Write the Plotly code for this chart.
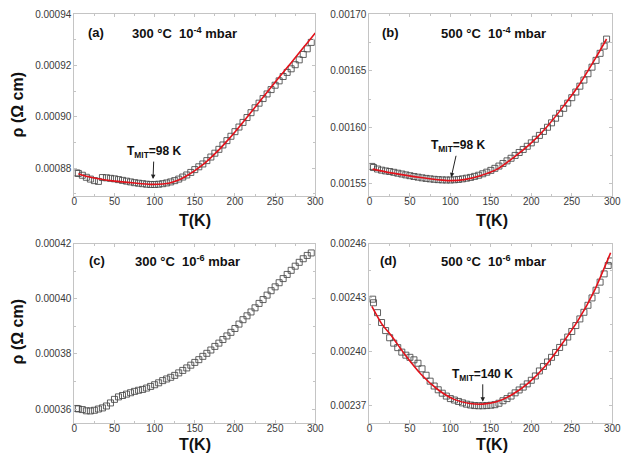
import plotly.graph_objects as go

# ---------------- data ----------------
T_a = [3, 5, 10, 15, 20, 25, 30, 35, 40, 45, 50, 55, 60, 65, 70, 75, 80, 85, 90, 95,
       100, 105, 110, 115, 120, 125, 130, 135, 140, 145, 150, 155, 160, 165, 170, 175,
       180, 185, 190, 195, 200, 205, 210, 215, 220, 225, 230, 235, 240, 245, 250, 255,
       260, 265, 270, 275, 280, 285, 290, 295]
rho_a = [0.0008781, 0.0008779, 0.0008772, 0.0008764, 0.0008757, 0.0008751, 0.0008748,
         0.0008763, 0.0008762, 0.0008760, 0.0008758, 0.0008755, 0.0008752, 0.0008749,
         0.0008746, 0.0008743, 0.0008741, 0.0008739, 0.0008737, 0.0008736, 0.0008736,
         0.0008737, 0.0008739, 0.0008742, 0.0008746, 0.0008751, 0.0008757, 0.0008765,
         0.0008773, 0.0008783, 0.0008794, 0.0008805, 0.0008816, 0.0008829, 0.0008843,
         0.0008858, 0.0008873, 0.0008890, 0.0008907, 0.0008924, 0.0008942, 0.0008960,
         0.0008978, 0.0008997, 0.0009016, 0.0009035, 0.0009053, 0.0009071, 0.0009089,
         0.0009106, 0.0009123, 0.0009140, 0.0009157, 0.0009173, 0.0009187, 0.0009203,
         0.0009222, 0.0009243, 0.0009265, 0.0009290]
Tfit_a = [5, 15, 30, 50, 75, 95, 110, 119, 130, 139, 150, 160, 170, 180, 190, 200, 210,
          220, 230, 240, 250, 260, 270, 280, 290, 300]
fit_a = [0.0008778, 0.0008768, 0.0008758, 0.0008749, 0.00087415, 0.00087365, 0.0008738,
         0.0008742, 0.0008753, 0.0008768, 0.0008790, 0.0008813, 0.0008841, 0.0008871,
         0.0008905, 0.0008941, 0.0008979, 0.0009018, 0.0009057, 0.0009096, 0.0009135,
         0.0009173, 0.0009211, 0.0009250, 0.0009288, 0.0009327]

T_b = [3, 5, 10, 15, 20, 25, 30, 35, 40, 45, 50, 55, 60, 65, 70, 75, 80, 85, 90, 95,
       100, 105, 110, 115, 120, 125, 130, 135, 140, 145, 150, 155, 160, 165, 170, 175,
       180, 185, 190, 195, 200, 205, 210, 215, 220, 225, 230, 235, 240, 245, 250, 255,
       260, 265, 270, 275, 280, 285, 290, 293]
rho_b = [0.0015655, 0.0015645, 0.0015632, 0.0015622, 0.0015615, 0.0015610, 0.0015603,
         0.0015595, 0.0015588, 0.0015580, 0.0015573, 0.0015566, 0.0015560, 0.0015554,
         0.0015549, 0.0015545, 0.0015541, 0.0015538, 0.0015536, 0.0015535, 0.0015535,
         0.0015537, 0.0015540, 0.0015545, 0.0015551, 0.0015558, 0.0015567, 0.0015577,
         0.0015590, 0.0015604, 0.0015620, 0.0015638, 0.0015658, 0.0015681, 0.0015704,
         0.0015727, 0.0015752, 0.0015778, 0.0015805, 0.0015833, 0.0015863, 0.0015895,
         0.0015929, 0.0015964, 0.0016001, 0.0016040, 0.0016081, 0.0016124, 0.0016168,
         0.0016214, 0.0016262, 0.0016312, 0.0016364, 0.0016418, 0.0016474, 0.0016532,
         0.0016592, 0.0016654, 0.0016718, 0.0016780]
Tfit_b = [4, 20, 36, 55, 77, 90, 101, 117, 137, 158, 178, 198, 218, 238, 259, 279, 293]
fit_b = [0.0015631, 0.0015607, 0.0015587, 0.0015565, 0.0015544, 0.0015534, 0.0015529,
         0.0015538, 0.0015573, 0.0015631, 0.0015733, 0.0015849, 0.0015995, 0.0016170,
         0.0016374, 0.0016607, 0.0016781]

T_c = [3, 5, 10, 15, 20, 25, 30, 35, 40, 45, 50, 55, 60, 65, 70, 75, 80, 85, 90, 95,
       100, 105, 110, 115, 120, 125, 130, 135, 140, 145, 150, 155, 160, 165, 170, 175,
       180, 185, 190, 195, 200, 205, 210, 215, 220, 225, 230, 235, 240, 245, 250, 255,
       260, 265, 270, 275, 280, 285, 290, 295]
rho_c = [0.0003602, 0.00036005, 0.0003598, 0.00035935, 0.0003593, 0.00035955, 0.00036,
         0.0003604, 0.0003611, 0.0003622, 0.0003635, 0.0003644, 0.0003649, 0.0003654,
         0.0003659, 0.0003664, 0.0003668, 0.0003671, 0.0003676, 0.0003682, 0.0003688,
         0.0003695, 0.0003703, 0.0003709, 0.0003715, 0.0003722, 0.0003731, 0.000374,
         0.0003749, 0.0003759, 0.0003769, 0.0003779, 0.0003791, 0.0003802, 0.0003814,
         0.0003827, 0.0003839, 0.0003852, 0.0003865, 0.0003878, 0.0003892, 0.0003908,
         0.0003924, 0.0003938, 0.0003952, 0.0003967, 0.0003983, 0.0003997, 0.0004013,
         0.0004029, 0.0004043, 0.0004058, 0.0004073, 0.0004088, 0.0004103, 0.0004118,
         0.0004132, 0.0004145, 0.0004157, 0.0004166]

T_d = [4, 5, 10, 15, 20, 25, 30, 35, 40, 45, 50, 55, 60, 65, 70, 75, 80, 85, 90, 95,
       100, 105, 110, 115, 120, 125, 130, 135, 140, 145, 150, 155, 160, 165, 170, 175,
       180, 185, 190, 195, 200, 205, 210, 215, 220, 225, 230, 235, 240, 245, 250, 255,
       260, 265, 270, 275, 280, 285, 290, 295, 298]
rho_d = [0.002429, 0.002427, 0.0024215, 0.002416, 0.0024115, 0.0024075, 0.0024045,
         0.002402, 0.0023995, 0.0023978, 0.0023966, 0.0023952, 0.0023933, 0.0023902,
         0.0023866, 0.0023833, 0.0023806, 0.0023785, 0.0023766, 0.002375, 0.0023736,
         0.0023728, 0.002372, 0.0023712, 0.0023705, 0.00237, 0.0023697, 0.0023696,
         0.0023696, 0.0023697, 0.0023699, 0.0023702, 0.002371, 0.0023724, 0.0023736,
         0.002375, 0.0023768, 0.0023784, 0.00238, 0.0023818, 0.0023838, 0.0023862,
         0.002389, 0.0023915, 0.002394, 0.0023966, 0.0023993, 0.0024021, 0.002405,
         0.0024079, 0.002411, 0.0024143, 0.002418, 0.0024217, 0.0024256, 0.0024297,
         0.002434, 0.0024385, 0.0024431, 0.0024478, 0.0024503]
Tfit_d = [3, 15, 28, 44, 64, 84, 104, 124, 140, 157, 177, 197, 217, 237, 258, 278, 298]
fit_d = [0.002425, 0.0024154, 0.0024081, 0.002398, 0.002387, 0.0023788, 0.0023733,
         0.0023709, 0.0023705, 0.0023718, 0.002376, 0.0023825, 0.0023916, 0.0024035,
         0.0024173, 0.0024338, 0.0024549]

panel_labels = ["(a)", "(b)", "(c)", "(d)"]
panel_titles = ["300 °C  10<sup>-4</sup> mbar", "500 °C  10<sup>-4</sup> mbar",
                "300 °C  10<sup>-6</sup> mbar", "500 °C  10<sup>-6</sup> mbar"]
x_ticks = [0, 50, 100, 150, 200, 250, 300]
tmit_text = ["T<sub>MIT</sub>=98 K", "T<sub>MIT</sub>=98 K", "T<sub>MIT</sub>=140 K"]

# ---------------- layout helpers ----------------
W, H = 634, 461
def px(x):
    return x / W
def py(y):
    return 1 - y / H

FONT = "Liberation Sans, Arial, sans-serif"
LINE_C = "#c4c4c4"

def xaxis(dom):
    return dict(domain=dom, range=[0, 300], tickmode="array", tickvals=x_ticks,
                ticks="inside", ticklen=3, tickcolor=LINE_C, showline=True,
                linecolor=LINE_C, linewidth=1, mirror="ticks", showgrid=False,
                zeroline=False, tickfont=dict(family=FONT, size=10, color="#3a3a3a"),
                ticklabelstandoff=-4,
                minor=dict(ticks="inside", ticklen=2, dtick=25, tick0=0,
                           tickcolor=LINE_C, showgrid=False))

def yaxis(dom, rng, tick0, dtick):
    return dict(domain=dom, range=rng, tickmode="linear", tick0=tick0, dtick=dtick,
                tickformat=".5f", ticks="inside", ticklen=3, tickcolor=LINE_C,
                showline=True, linecolor=LINE_C, linewidth=1, mirror="ticks",
                showgrid=False, zeroline=False,
                tickfont=dict(family=FONT, size=10, color="#3a3a3a"),
                minor=dict(ticks="inside", ticklen=2, dtick=dtick / 2, tick0=tick0,
                           tickcolor=LINE_C, showgrid=False))

xl = [px(72.7), px(318.3)]
xr = [px(373.5), px(621)]
yt = [py(192), py(8.3)]
yb = [py(422.3), py(240.7)]

fig = go.Figure()

mk = dict(symbol="square-open", size=6, color="rgba(70,70,70,0.85)", line=dict(width=1))
series = [(T_a, rho_a, "x", "y"), (T_b, rho_b, "x2", "y2"),
          (T_c, rho_c, "x3", "y3"), (T_d, rho_d, "x4", "y4")]
for t, r, xa, ya in series:
    fig.add_trace(go.Scatter(x=t, y=r, mode="markers", marker=mk, xaxis=xa, yaxis=ya,
                             showlegend=False, hoverinfo="skip"))
fits = [(Tfit_a, fit_a, "x", "y"), (Tfit_b, fit_b, "x2", "y2"), (Tfit_d, fit_d, "x4", "y4")]
for t, r, xa, ya in fits:
    fig.add_trace(go.Scatter(x=t, y=r, mode="lines", line=dict(color="#e3121b", width=1.6,
                             shape="spline", smoothing=0.6), xaxis=xa, yaxis=ya,
                             showlegend=False, hoverinfo="skip"))

ann = []
bold = dict(family=FONT, size=13, color="#111")
lab_pos = [(95, 27), (394.5, 27), (96, 258), (393, 258)]
tit_pos = [(185, 27), (500, 27), (188, 258), (499.5, 258)]
for i in range(4):
    ann.append(dict(x=px(lab_pos[i][0]), y=py(lab_pos[i][1]), xref="paper", yref="paper",
                    xanchor="center", yanchor="middle",
                    text="<b>%s</b>" % panel_labels[i], showarrow=False, font=bold))
    ann.append(dict(x=px(tit_pos[i][0]), y=py(tit_pos[i][1]), xref="paper", yref="paper",
                    xanchor="center", yanchor="middle",
                    text="<b>%s</b>" % panel_titles[i], showarrow=False, font=bold))
tfont = dict(family=FONT, size=16, color="#111")
for cx, cy in [(196, 217), (498, 217), (196, 444), (498, 444)]:
    ann.append(dict(x=px(cx), y=py(cy), xref="paper", yref="paper", text="<b>T(K)</b>",
                    xanchor="center", yanchor="middle", showarrow=False, font=tfont))
for cy in [100, 330]:
    ann.append(dict(x=px(15), y=py(cy), xref="paper", yref="paper",
                    xanchor="center", yanchor="middle",
                    text="<b>ρ (Ω cm)</b>", showarrow=False, font=tfont, textangle=-90))
afont = dict(family=FONT, size=12, color="#111")
arrows = [(98, 0.0008757, "x", "y", 1, -27, tmit_text[0]),
          (101, 0.0015559, "x2", "y2", 7, -31, tmit_text[1]),
          (140, 0.0023718, "x4", "y4", 0, -27, tmit_text[2])]
for x, y, xa, ya, dx, dy, txt in arrows:
    ann.append(dict(x=x, y=y, xref=xa, yref=ya, ax=dx, ay=dy, text="<b>%s</b>" % txt,
                    showarrow=True, arrowhead=2, arrowsize=0.9, arrowwidth=1,
                    arrowcolor="#222", font=afont, standoff=0))

fig.update_layout(
    width=W, height=H, margin=dict(l=0, r=0, t=0, b=0),
    paper_bgcolor="white", plot_bgcolor="white",
    xaxis=xaxis(xl), xaxis2=dict(xaxis(xr), anchor="y2"),
    xaxis3=dict(xaxis(xl), anchor="y3"), xaxis4=dict(xaxis(xr), anchor="y4"),
    yaxis=yaxis(yt, [0.0008693, 0.00094], 0.00088, 0.00002),
    yaxis2=dict(yaxis(yt, [0.0015398, 0.0017], 0.00155, 0.00005), anchor="x2"),
    yaxis3=dict(yaxis(yb, [0.000355, 0.00042], 0.00036, 0.00002), anchor="x3"),
    yaxis4=dict(yaxis(yb, [0.0023601, 0.00246], 0.00237, 0.00003), anchor="x4"),
    annotations=ann,
)
fig.write_html("out.html")
